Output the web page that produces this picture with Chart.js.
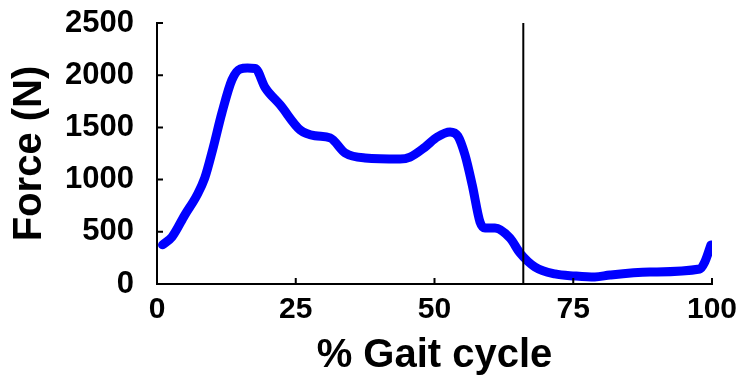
<!DOCTYPE html>
<html>
<head>
<meta charset="utf-8">
<script src="https://cdn.jsdelivr.net/npm/chart.js@4/dist/chart.umd.min.js"></script>
<style>
  html, body { margin: 0; padding: 0; background: #fff; }
  #wrap { width: 751px; height: 383px; }
</style>
</head>
<body>
<div id="wrap"><canvas id="graficoFuerza" width="751" height="383"></canvas></div>
<script>
// % of gait cycle and contact force (N)
const gaitPct = [1, 2.7, 5, 7.2, 8.6, 10, 11.7, 13.5, 15, 16.3, 17.7, 19.5, 22.2, 25.8, 28.5, 31.2,
    33.9, 37.5, 43.8, 45.6, 48.3, 50.5, 52.8, 54.2, 55.5, 56.8, 58.2, 59.1, 60.9, 63.6, 65.4,
    68.1, 71.7, 75.3, 78.9, 81.6, 88.8, 97.8, 98.7, 99.8];
const forceN = [375, 450, 660, 850, 1015, 1280, 1640, 1955, 2060, 2068, 2065, 1880, 1715, 1475, 1420, 1400,
    1255, 1207, 1197, 1216, 1312, 1408, 1456, 1418, 1235, 948, 594, 536, 536, 440, 297,
    163, 96, 77, 67, 86, 115, 144, 211, 374];
const xTicks = [0, 25, 50, 75, 100];
const yTicks = [0, 500, 1000, 1500, 2000, 2500];
const toeOffPct = 66;   // vertical marker

const fuente = 'Liberation Sans, Arial, sans-serif';

// inward tick marks + vertical marker line
const extrasPlugin = {
    id: 'extras',
    afterDatasetsDraw(chart) {
        const { ctx, chartArea, scales } = chart;
        ctx.save();
        ctx.strokeStyle = '#000';
        ctx.lineWidth = 2;
        ctx.beginPath();
        xTicks.forEach(v => {
            const px = scales.x.getPixelForValue(v);
            ctx.moveTo(px, chartArea.bottom);
            ctx.lineTo(px, chartArea.bottom - 6);
        });
        yTicks.forEach(v => {
            const py = scales.y.getPixelForValue(v);
            ctx.moveTo(chartArea.left, py);
            ctx.lineTo(chartArea.left + 6, py);
        });
        const mx = scales.x.getPixelForValue(toeOffPct);
        ctx.moveTo(mx, chartArea.top);
        ctx.lineTo(mx, chartArea.bottom);
        ctx.stroke();
        ctx.restore();
    }
};

const ctx = document.getElementById('graficoFuerza');
new Chart(ctx.getContext('2d'), {
    type: 'line',
    data: {
        datasets: [{
            label: 'Force (N)',
            data: gaitPct.map((x, i) => ({ x: x, y: forceN[i] })),
            borderColor: '#0000ff',
            borderWidth: 9,
            borderCapStyle: 'round',
            borderJoinStyle: 'round',
            cubicInterpolationMode: 'monotone',
            pointRadius: 0,
            fill: false
        }]
    },
    options: {
        responsive: false,
        animation: false,
        layout: { padding: { top: 23, right: 39, left: 0, bottom: 0 } },
        scales: {
            x: {
                type: 'linear',
                min: 0,
                max: 100,
                afterFit: s => { s.height = 99; s.paddingLeft = 0; s.paddingRight = 0; },
                afterBuildTicks: s => { s.ticks = xTicks.map(v => ({ value: v })); },
                grid: { display: false },
                border: { display: true, color: '#000', width: 2 },
                ticks: {
                    color: '#000',
                    padding: 0,
                    maxRotation: 0,
                    font: { family: fuente, size: 30, weight: 'bold' }
                },
                title: {
                    display: true,
                    text: '% Gait cycle',
                    color: '#000',
                    padding: { top: 0, bottom: 3 },
                    font: { family: fuente, size: 40, weight: 'bold' }
                }
            },
            y: {
                min: 0,
                max: 2500,
                afterFit: s => { s.width = 157; s.paddingTop = 0; s.paddingBottom = 0; },
                afterBuildTicks: s => { s.ticks = yTicks.map(v => ({ value: v })); },
                grid: { display: false },
                border: { display: true, color: '#000', width: 2 },
                ticks: {
                    color: '#000',
                    padding: 15,
                    callback: v => String(v),
                    font: { family: fuente, size: 31, weight: 'bold' }
                },
                title: {
                    display: true,
                    text: 'Force (N)',
                    color: '#000',
                    padding: { top: 6, bottom: 0 },
                    font: { family: fuente, size: 40, weight: 'bold' }
                }
            }
        },
        plugins: {
            legend: { display: false },
            tooltip: { enabled: false }
        }
    },
    plugins: [extrasPlugin]
});
</script>
</body>
</html>
